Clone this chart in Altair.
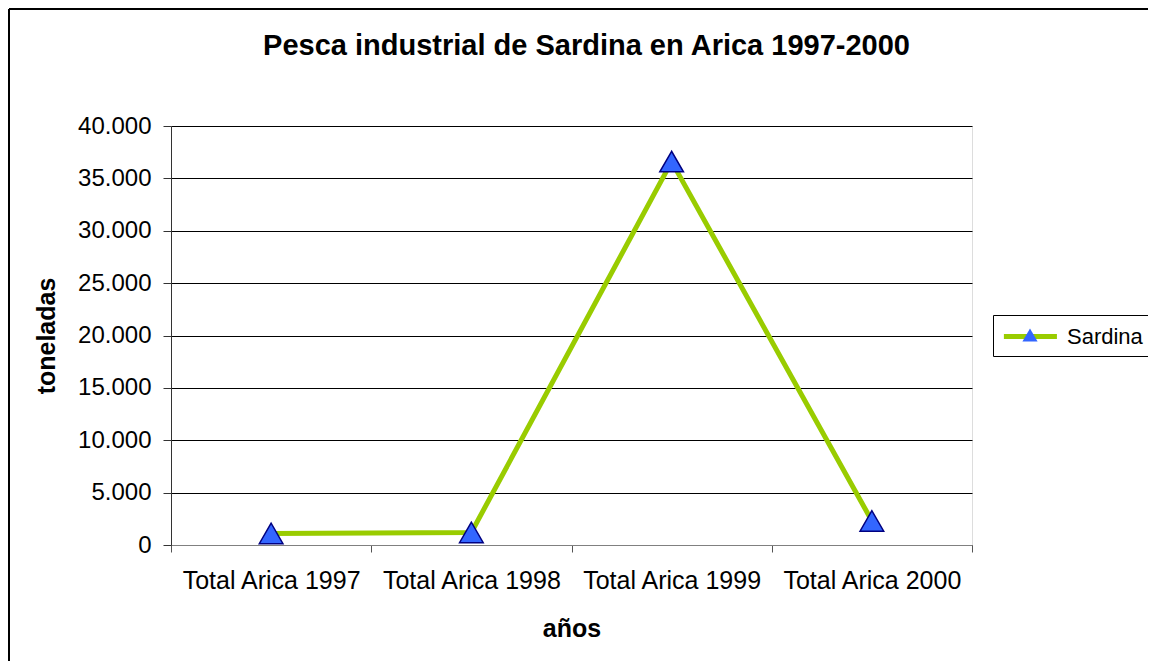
import altair as alt
import pandas as pd

categories = ["Total Arica 1997", "Total Arica 1998", "Total Arica 1999", "Total Arica 2000"]
values = [1100, 1200, 36600, 2300]
series = "Sardina"

df = pd.DataFrame({"cat": categories, "val": values, "series": [series] * len(categories)})

FONT = "Liberation Sans"
W, H = 801, 419
PL, PT = 163, 118
PR, PB = 1140 - PL - W, 653 - PT - H

x_enc = alt.X(
    "cat:N",
    sort=categories,
    scale=alt.Scale(type="band", paddingInner=0, paddingOuter=0),
    axis=alt.Axis(
        title="años",
        tickBand="extent",
        labelAngle=0,
        labelFontSize=25,
        labelFont=FONT,
        labelColor="black",
        labelPadding=16,
        tickSize=7,
        tickColor="#555555",
        domainColor="#808080",
        grid=False,
        titleFont=FONT,
        titleFontSize=25,
        titleFontWeight="bold",
        titlePadding=23,
        titleColor="black",
    ),
)
y_enc = alt.Y(
    "val:Q",
    scale=alt.Scale(domain=[0, 40000], nice=False),
    axis=alt.Axis(
        title="toneladas",
        values=[0, 5000, 10000, 15000, 20000, 25000, 30000, 35000, 40000],
        labelExpr="replace(format(datum.value, ',d'), ',', '.')",
        labelFontSize=24,
        labelFont=FONT,
        labelColor="black",
        labelPadding=12,
        tickSize=8,
        tickColor="#333333",
        domainColor="#333333",
        grid=True,
        gridColor="black",
        gridWidth=1,
        titleFont=FONT,
        titleFontSize=25,
        titleFontWeight="bold",
        titlePadding=18,
        titleColor="black",
    ),
)

base = alt.Chart(df)

line = base.mark_line(strokeWidth=5).encode(
    x=x_enc,
    y=y_enc,
    stroke=alt.Stroke(
        "series:N",
        scale=alt.Scale(range=["#99CC00"]),
        legend=alt.Legend(
            title=None,
            orient="none",
            legendX=822,
            legendY=189,
            symbolType="M-1,0H4",
            symbolSize=450,
            symbolStrokeWidth=5,
            labelFont=FONT,
            labelFontSize=22,
            labelColor="black",
            labelOffset=39,
            strokeColor="black",
            fillColor="white",
            padding=8,
        ),
    ),
)

points = base.mark_point(filled=True, size=560, fill="#3366FF", stroke="#000080", strokeWidth=1.5, opacity=1).encode(
    x=alt.X("cat:N", sort=categories),
    y=alt.Y("val:Q"),
    shape=alt.Shape(
        "series:N",
        scale=alt.Scale(range=["triangle-up"]),
        legend=alt.Legend(
            title=None,
            orient="none",
            legendX=848,
            legendY=198,
            symbolSize=230,
            symbolFillColor="#3366FF",
            symbolStrokeColor="#000080",
            symbolStrokeWidth=1.2,
            labelExpr="''",
            labelFontSize=22,
            padding=0,
        ),
    ),
)

frame = alt.Chart(alt.Data(values=[{}])).mark_rule(color="black", strokeWidth=2).encode(
    x=alt.value(-PL + 1), y=alt.value(-PT + 1), y2=alt.value(H + PB)
)
frame_top = alt.Chart(alt.Data(values=[{}])).mark_rule(color="black", strokeWidth=2).encode(
    x=alt.value(-PL + 1), x2=alt.value(W + PR), y=alt.value(-PT + 1)
)

chart = (
    alt.layer(line, points, frame, frame_top)
    .resolve_legend(stroke="independent", shape="independent")
    .properties(
        width=W,
        height=H,
        padding={"left": PL, "top": PT, "right": PR, "bottom": PB},
        autosize=alt.AutoSizeParams(type="none"),
        title=alt.TitleParams(
            "Pesca industrial de Sardina en Arica 1997-2000",
            font=FONT,
            fontSize=29,
            fontWeight="bold",
            color="black",
            anchor="middle",
            dx=15,
            offset=-53,
        ),
    )
    .configure_view(stroke="#808080", strokeWidth=1)
    .configure(background="white")
)

chart.save("out.html", embed_options={"renderer": "svg", "actions": False})
